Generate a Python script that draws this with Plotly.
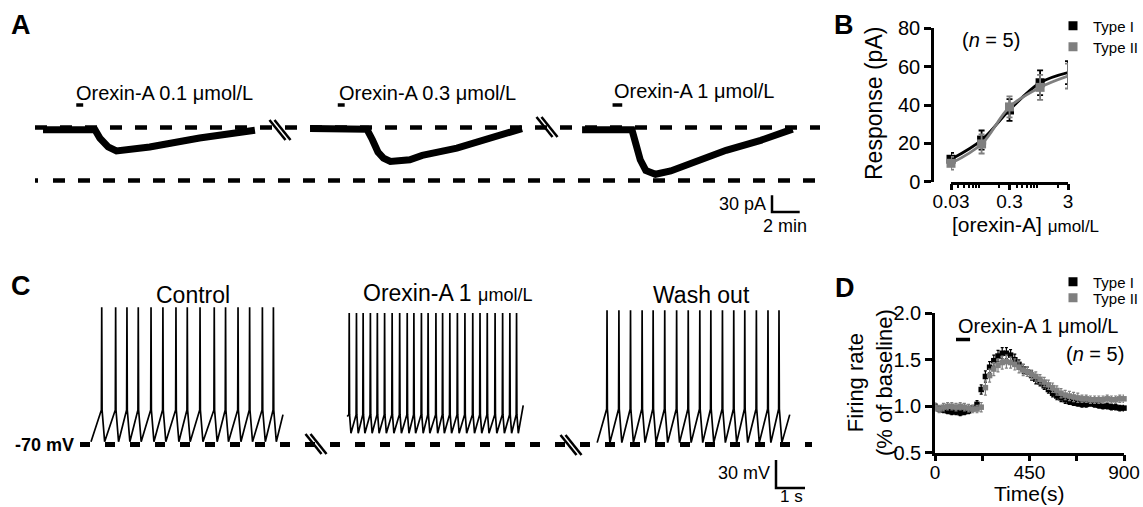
import plotly.graph_objects as go

# ======================= DATA =======================
# Panel A: orexin-A induced inward currents, key points
# (time in min from start of each sweep, current in pA relative to baseline)
a_labels = ["Orexin-A 0.1 μmol/L", "Orexin-A 0.3 μmol/L", "Orexin-A 1 μmol/L"]
a_time_01 = [0, 3.75, 4.1, 4.7, 5.3, 6.3, 7.7, 11.3, 13.7, 15.3]
a_curr_01 = [-4, -4, -19, -35, -42, -40, -35, -19, -10, -5]
a_time_03 = [0, 4.1, 4.5, 4.9, 5.3, 5.8, 7.2, 8.1, 10.6, 13.0, 15.3]
a_curr_03 = [-2, -3, -22, -44, -55, -61, -58, -50, -37, -19, -2]
a_time_1 = [0, 3.6, 3.9, 4.2, 4.6, 5.3, 6.4, 8.0, 10.4, 12.9, 14.8, 15.2]
a_curr_1 = [-4, -4, -31, -58, -77, -84, -78, -62, -41, -23, -6, -3]
a_app_start = [2.4, 2.0, 2.2]      # drug application (min)
a_app_end = [2.9, 2.5, 2.9]
a_baseline_pA = 0
a_maxref_pA = -95
a_scale_pA = 30
a_scale_min = 2

# Panel B: concentration-response
b_conc = [0.03, 0.1, 0.3, 1, 3]
b_type1 = [11.7, 21.7, 37.4, 51.6, 56.9]
b_type1_err = [3.3, 5.0, 5.7, 6.5, 6.0]
b_type2 = [9.6, 19.7, 39.0, 49.2, 55.1]
b_type2_err = [3.3, 5.0, 5.5, 6.5, 6.5]

# Panel C: current-clamp firing (spike times in s, voltages in mV)
c_titles = ["Control", "Orexin-A 1 <span style='font-size:18px'>μmol/L</span>", "Wash out"]
c_spikes_ctrl = [0.37, 0.85, 1.24, 1.63, 2.07, 2.48, 2.93, 3.32, 3.76, 4.25, 4.64,
                 5.07, 5.47, 5.91, 6.29]
c_spikes_orx = [0.07, 0.32, 0.55, 0.80, 1.04, 1.29, 1.55, 1.81, 2.07, 2.30, 2.56, 2.79,
                3.06, 3.29, 3.54, 3.80, 4.06, 4.33, 4.58, 4.83, 5.10, 5.36, 5.61, 5.84]
c_spikes_wash = [0.34, 0.75, 1.15, 1.55, 1.93, 2.33, 2.74, 3.14, 3.54, 3.92, 4.32, 4.71,
                 5.09, 5.49, 5.89, 6.27]
c_duration = [6.62, 6.07, 6.64]
c_start_mV = [-67, -40, -68]
c_end_mV = [-38, -28, -38]
c_peak_mV = [77, 71, 74]
c_threshold_mV = [-33, -38, -32]
c_trough_mV = [-67, -58, -68]
c_ahp_s = [0.10, 0.06, 0.10]
c_rest_mV = -70
c_scale_mV = 30
c_scale_s = 1

# Panel D: firing rate time course (normalised to baseline)
d_time = [0, 20, 40, 60, 80, 100, 120, 140, 160, 180, 200, 220, 240, 260, 280, 300,
          320, 340, 360, 380, 400, 420, 440, 460, 480, 500, 520, 540, 560, 580, 600,
          620, 640, 660, 680, 700, 720, 740, 760, 780, 800, 820, 840, 860, 880, 900]
d_type1 = [1.00, 0.97, 0.96, 0.95, 0.94, 0.94, 0.93, 0.94, 0.95, 0.98, 1.02,
           1.18, 1.32, 1.42, 1.49, 1.54, 1.57, 1.57, 1.55, 1.50, 1.45,
           1.40, 1.37, 1.33, 1.29, 1.26, 1.22, 1.18, 1.14, 1.11, 1.09, 1.07, 1.05,
           1.04, 1.03, 1.02, 1.02, 1.03, 1.02, 1.01, 1.00, 1.00, 0.99, 0.99, 0.98, 0.98]
d_type1_err = [0.03, 0.03, 0.03, 0.03, 0.03, 0.03, 0.03, 0.03, 0.03, 0.03, 0.04,
               0.05, 0.06, 0.06, 0.06, 0.06, 0.06, 0.06, 0.06, 0.06, 0.05,
               0.05, 0.05, 0.05, 0.05, 0.04, 0.04, 0.04, 0.04, 0.04, 0.04, 0.04, 0.03,
               0.03, 0.03, 0.03, 0.03, 0.03, 0.03, 0.03, 0.03, 0.03, 0.03, 0.03, 0.03, 0.03]
d_type2 = [0.99, 0.97, 0.99, 1.00, 1.00, 0.99, 1.00, 0.99, 0.98, 0.97, 0.97,
           0.99, 1.20, 1.33, 1.40, 1.44, 1.47, 1.48, 1.47, 1.45, 1.42,
           1.39, 1.37, 1.34, 1.32, 1.29, 1.26, 1.23, 1.20, 1.17, 1.14, 1.12, 1.11,
           1.10, 1.09, 1.08, 1.08, 1.07, 1.07, 1.07, 1.07, 1.08, 1.07, 1.07, 1.08, 1.08]
d_type2_err = [0.04, 0.04, 0.04, 0.04, 0.04, 0.04, 0.04, 0.04, 0.04, 0.04, 0.04,
               0.05, 0.08, 0.07, 0.07, 0.07, 0.07, 0.07, 0.06, 0.06, 0.06,
               0.06, 0.05, 0.05, 0.05, 0.05, 0.05, 0.05, 0.05, 0.05, 0.05, 0.05, 0.05,
               0.05, 0.05, 0.04, 0.04, 0.04, 0.04, 0.04, 0.04, 0.04, 0.04, 0.04, 0.04, 0.04]
d_app = [100, 167]

# ======================= LAYOUT HELPERS =======================
W, H = 1143, 507
FONT = "Liberation Sans, Arial, Helvetica, sans-serif"
BLACK = "#000000"
GRAY = "#7f7f7f"


def px(x):
    return x / W


def py(y):
    return 1 - y / H


# Panel A scale (pixels per unit) and sweep offsets
A_X0, A_PPM = 35, 13.85
A_Y0, A_PPP = 127.5, 0.557
A_DX, A_DY = (30, 830), (80, 235)
A_OFF = [0.58, 19.86, 39.5]
a_range_x = [(A_DX[0] - A_X0) / A_PPM, (A_DX[1] - A_X0) / A_PPM]
a_range_y = [(A_Y0 - A_DY[1]) / A_PPP, (A_Y0 - A_DY[0]) / A_PPP]

# Panel C scale and sweep offsets
C_X0, C_PPS = 83, 29.0
C_Y0, C_PPV = 444.5, 0.933
C_DX, C_DY = (75, 830), (275, 507)
C_OFF = [0.276, 9.11, 17.73]
c_range_x = [(C_DX[0] - C_X0) / C_PPS, (C_DX[1] - C_X0) / C_PPS]
c_range_y = [c_rest_mV + (C_Y0 - C_DY[1]) / C_PPV, c_rest_mV + (C_Y0 - C_DY[0]) / C_PPV]

fig = go.Figure()

# ---------------- Panel A ----------------
a_t_end = (820 - A_X0) / A_PPM
fig.add_trace(go.Scatter(x=[0, a_t_end], y=[a_baseline_pA, a_baseline_pA], mode="lines",
                         line=dict(color=BLACK, width=4.5, dash="12px,13px"),
                         xaxis="x", yaxis="y", showlegend=False, hoverinfo="skip"))
fig.add_trace(go.Scatter(x=[0, a_t_end - 0.3], y=[a_maxref_pA, a_maxref_pA], mode="lines",
                         line=dict(color=BLACK, width=4.5, dash="3px,15px" + ",12px,13px" * 32),
                         xaxis="x", yaxis="y", showlegend=False, hoverinfo="skip"))
for off, tt, ii in zip(A_OFF, [a_time_01, a_time_03, a_time_1], [a_curr_01, a_curr_03, a_curr_1]):
    fig.add_trace(go.Scatter(x=[off + t for t in tt], y=ii, mode="lines",
                             line=dict(color=BLACK, width=7),
                             xaxis="x", yaxis="y", showlegend=False, hoverinfo="skip"))
A_BAR_PA = (A_Y0 - 105) / A_PPP
for off, s, e in zip(A_OFF, a_app_start, a_app_end):
    fig.add_trace(go.Scatter(x=[off + s, off + e], y=[A_BAR_PA, A_BAR_PA], mode="lines",
                             line=dict(color=BLACK, width=3.5),
                             xaxis="x", yaxis="y", showlegend=False, hoverinfo="skip"))
# scale bar
sb_x = (772 - A_X0) / A_PPM
sb_y = (A_Y0 - 212) / A_PPP
fig.add_trace(go.Scatter(x=[sb_x, sb_x, sb_x + a_scale_min],
                         y=[sb_y + a_scale_pA, sb_y, sb_y], mode="lines",
                         line=dict(color=BLACK, width=2.5),
                         xaxis="x", yaxis="y", showlegend=False, hoverinfo="skip"))

# ---------------- Panel B ----------------
for vals, errs, col in [(b_type1, b_type1_err, BLACK), (b_type2, b_type2_err, GRAY)]:
    fig.add_trace(go.Scatter(x=b_conc, y=vals, mode="lines+markers",
                             line=dict(color=col, width=2.8, shape="spline", smoothing=1.0),
                             marker=dict(symbol="square", size=9, color=col),
                             error_y=dict(type="data", array=errs, color=col, thickness=1.8, width=3),
                             cliponaxis=False, xaxis="x2", yaxis="y2", showlegend=False,
                             hoverinfo="skip"))

# ---------------- Panel C ----------------
c_t_end = (812 - C_X0) / C_PPS
fig.add_trace(go.Scatter(x=[(80 - C_X0) / C_PPS, c_t_end], y=[c_rest_mV, c_rest_mV], mode="lines",
                         line=dict(color=BLACK, width=5, dash="10px,15px"),
                         xaxis="x3", yaxis="y3", showlegend=False, hoverinfo="skip"))
for k, spikes in enumerate([c_spikes_ctrl, c_spikes_orx, c_spikes_wash]):
    xs, ys = [0.0], [c_start_mV[k]]
    for ts in spikes:
        xs += [ts - 0.012, ts, ts + 0.012, ts + c_ahp_s[k]]
        ys += [c_threshold_mV[k], c_peak_mV[k], c_threshold_mV[k], c_trough_mV[k]]
    xs.append(c_duration[k])
    ys.append(c_end_mV[k])
    fig.add_trace(go.Scatter(x=[C_OFF[k] + x for x in xs], y=ys, mode="lines",
                             line=dict(color=BLACK, width=1.7),
                             xaxis="x3", yaxis="y3", showlegend=False, hoverinfo="skip"))
sbc_x = (776 - C_X0) / C_PPS
sbc_y = c_rest_mV - (488 - C_Y0) / C_PPV
fig.add_trace(go.Scatter(x=[sbc_x, sbc_x, sbc_x + c_scale_s],
                         y=[sbc_y + c_scale_mV, sbc_y, sbc_y], mode="lines",
                         line=dict(color=BLACK, width=2.5),
                         xaxis="x3", yaxis="y3", showlegend=False, hoverinfo="skip"))

# ---------------- Panel D ----------------
for vals, errs, col in [(d_type1, d_type1_err, BLACK), (d_type2, d_type2_err, GRAY)]:
    fig.add_trace(go.Scatter(x=d_time, y=vals, mode="markers",
                             marker=dict(symbol="square", size=5.5, color=col),
                             error_y=dict(type="data", array=errs, color=col, thickness=1.2, width=1.5),
                             cliponaxis=False, xaxis="x4", yaxis="y4", showlegend=False,
                             hoverinfo="skip"))
D_BAR = 0.5 + (452.7 - 339.3) / 93.1
fig.add_trace(go.Scatter(x=d_app, y=[D_BAR, D_BAR], mode="lines",
                         line=dict(color=BLACK, width=3.5),
                         xaxis="x4", yaxis="y4", showlegend=False, hoverinfo="skip"))

# legends (marker-only entries)
legend_items = [("Type I", BLACK, "legend", "x2", "y2"), ("Type II", GRAY, "legend2", "x2", "y2"),
                ("Type I", BLACK, "legend3", "x4", "y4"), ("Type II", GRAY, "legend4", "x4", "y4")]
for name, col, lg, xa, ya in legend_items:
    fig.add_trace(go.Scatter(x=[None], y=[None], mode="markers", name=name,
                             marker=dict(symbol="square", size=9, color=col),
                             xaxis=xa, yaxis=ya, showlegend=True, legend=lg))

leg_common = dict(xanchor="left", yanchor="middle", bgcolor="rgba(0,0,0,0)",
                  font=dict(size=15, family=FONT, color=BLACK), itemwidth=30,
                  borderwidth=0)
LEG_X = 1053

# ---------------- axes ----------------
hidden = dict(visible=False, showgrid=False, zeroline=False, fixedrange=True, automargin=False)
ax_line = dict(showline=True, linecolor=BLACK, linewidth=2.5, ticks="outside",
               tickcolor=BLACK, tickwidth=2.5, showgrid=False, zeroline=False, automargin=False,
               tickfont=dict(size=20, family=FONT, color=BLACK))
x_tickfont = dict(size=19, family=FONT, color=BLACK)

layout = dict(
    width=W, height=H, margin=dict(l=0, r=0, t=0, b=0, pad=0, autoexpand=False), autosize=False,
    paper_bgcolor="white", plot_bgcolor="rgba(0,0,0,0)",
    font=dict(family=FONT, color=BLACK),
    xaxis=dict(domain=[px(A_DX[0]), px(A_DX[1])], range=a_range_x, anchor="y", **hidden),
    yaxis=dict(domain=[py(A_DY[1]), py(A_DY[0])], range=a_range_y, anchor="x", **hidden),
    xaxis2=dict(domain=[px(951), px(1068)], type="log",
                range=[-1.5229, 0.4771], anchor="y2",
                tickvals=[0.03, 0.3, 3], ticktext=["0.03", "0.3", "3"], ticklen=6,
                ticklabelstandoff=-5,
                minor=dict(ticks="outside", ticklen=3.5, tickwidth=1.5, tickcolor=BLACK,
                           tickvals=[0.04, 0.05, 0.06, 0.07, 0.08, 0.09, 0.2, 0.4, 0.5,
                                     0.6, 0.7, 0.8, 0.9, 2], showgrid=False),
                **{**ax_line, "tickfont": x_tickfont}),
    yaxis2=dict(domain=[py(181.7), py(28.3)], range=[0, 80], anchor="free",
                position=px(932), tickvals=[0, 20, 40, 60, 80], ticklen=7, **ax_line),
    xaxis3=dict(domain=[px(C_DX[0]), px(C_DX[1])], range=c_range_x, anchor="y3", **hidden),
    yaxis3=dict(domain=[py(C_DY[1]), py(C_DY[0])], range=c_range_y, anchor="x3", **hidden),
    xaxis4=dict(domain=[px(935), px(1124)], range=[0, 900], anchor="y4",
                tickvals=[0, 225, 450, 675, 900], ticktext=["0", "", "450", "", "900"],
                ticklen=6, ticklabelstandoff=-5, **{**ax_line, "tickfont": x_tickfont}),
    yaxis4=dict(domain=[py(452.7), py(313.3)], range=[0.5, 2.0], anchor="x4",
                tickvals=[0.5, 1.0, 1.5, 2.0], ticktext=["0.5", "1.0", "1.5", "2.0"],
                ticklen=7, **ax_line),
    legend=dict(x=px(LEG_X), y=py(26), **leg_common),
    legend2=dict(x=px(LEG_X), y=py(47), **leg_common),
    legend3=dict(x=px(LEG_X), y=py(282), **leg_common),
    legend4=dict(x=px(LEG_X), y=py(298), **leg_common),
)
fig.update_layout(**layout)


# ---------------- text ----------------
def ann(text, x, y, size, xanchor="center", angle=0):
    return dict(text=text, x=px(x), y=py(y), xref="paper", yref="paper", showarrow=False,
                xanchor=xanchor, yanchor="middle", textangle=angle,
                font=dict(size=size, family=FONT, color=BLACK))


anns = [
    ann("<b>A</b>", 21, 25, 27), ann("<b>B</b>", 844, 25, 27),
    ann("<b>C</b>", 21, 286, 27), ann("<b>D</b>", 845, 288, 27),
    ann(a_labels[0], 74, 93, 20, "left"), ann(a_labels[1], 337, 93, 20, "left"),
    ann(a_labels[2], 612, 91, 20, "left"),
    ann("30 pA", 768, 204, 18, "right"), ann("2 min", 785, 226, 18),
    ann("Response (pA)", 874, 104, 23, angle=-90),
    ann("[orexin-A] <span style='font-size:17px'>μmol/L</span>", 1025, 224, 21),
    ann("(<i>n</i> = 5)", 991, 40, 20),
    ann(c_titles[0], 193, 295, 23), ann(c_titles[1], 447, 293, 23),
    ann(c_titles[2], 701, 295, 23),
    ann("<b>-70 mV</b>", 76, 445, 18, "right"),
    ann("30 mV", 772, 473, 18, "right"), ann("1 s", 791, 496, 17),
    ann("Firing rate<br>(% of baseline)", 870, 383, 22, angle=-90),
    ann("Time(s)", 1029, 493, 21),
    ann("Orexin-A 1 μmol/L", 956, 326, 20, "left"),
    ann("(<i>n</i> = 5)", 1126, 354, 20, "right"),
]
fig.update_layout(annotations=anns)

# break marks (axis-break symbols)
shapes = []
for cx, cy in [(280, 130), (547, 127), (316, 444), (571, 445)]:
    for d in (-2.5, 2.5):
        shapes.append(dict(type="line", xref="paper", yref="paper",
                           x0=px(cx - 8 + d), y0=py(cy - 10), x1=px(cx + 8 + d), y1=py(cy + 10),
                           line=dict(color=BLACK, width=2.5)))
fig.update_layout(shapes=shapes)

fig.write_html("out.html", config={"displayModeBar": False},
               post_script="document.body.style.margin='0';document.body.style.overflow='hidden';")
